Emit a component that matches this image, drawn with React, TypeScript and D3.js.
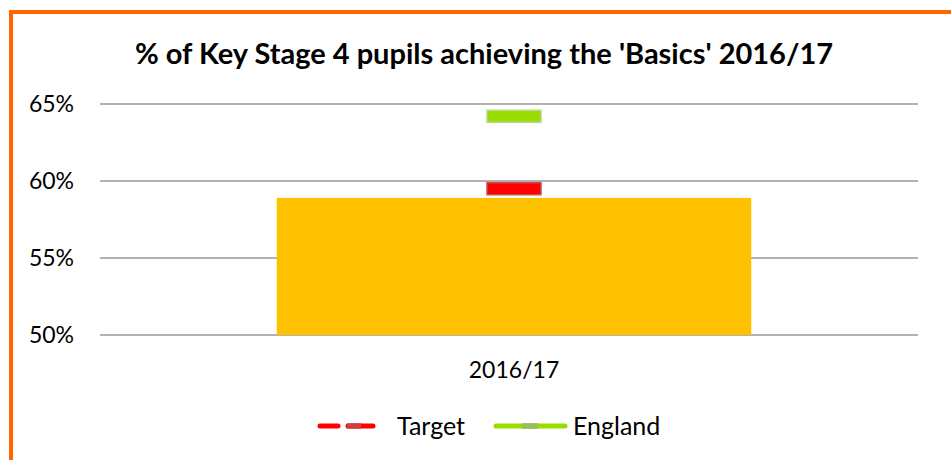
import React from 'react';
import * as d3 from 'd3';

// data
const categories = ['2016/17'];
const pupilValues = [58.9];
const targetValues = [59.5];
const englandValues = [64.2];
const yTicks = [50, 55, 60, 65];

const width = 951;
const height = 460;
const font = 'Lato, "Open Sans", sans-serif';

export default function App() {
    const plot = {left: 100, right: 918, top: 104, bottom: 335};

    // band range nudged right a bit so the bar sits where Excel put it
    const xScale = d3.scaleBand<string>()
        .domain(categories)
        .range([plot.left + 5, plot.right + 5])
        .paddingInner(0.42)
        .paddingOuter(0.21);
    const yScale = d3.scaleLinear()
        .domain([50, 65])
        .range([plot.bottom, plot.top]);

    const markerW = 54;
    const markerH = 12;

    return (
        <svg width={width} height={height} style={{position: 'absolute', left: 0, top: 0}}>
            <rect x={0} y={0} width={width} height={height} fill="#fff" />
            {/* chart border */}
            <rect x={11} y={12} width={width + 20} height={height + 20} fill="none" stroke="#ff6600" strokeWidth={4} />

            <text x={484} y={64} textAnchor="middle" fontFamily={font} fontWeight="bold" fontSize={29} fill="#000">
                % of Key Stage 4 pupils achieving the 'Basics' 2016/17
            </text>

            {/* gridlines + y labels */}
            {yTicks.map((t) => (
                <g key={t}>
                    <line x1={plot.left} x2={plot.right} y1={yScale(t)} y2={yScale(t)} stroke="#999" strokeWidth={1.5} />
                    <text x={74} y={yScale(t)} dy="0.35em" textAnchor="end" fontFamily={font} fontSize={23} fill="#000">
                        {t}%
                    </text>
                </g>
            ))}

            {/* bars */}
            {categories.map((c, i) => (
                <rect key={c} x={xScale(c)} y={yScale(pupilValues[i])} width={xScale.bandwidth()}
                      height={yScale(50) - yScale(pupilValues[i])} fill="#ffc000" />
            ))}

            {/* target markers */}
            {categories.map((c, i) => {
                const cx = (xScale(c) as number) + xScale.bandwidth() / 2;
                return (
                    <rect key={'t' + c} x={cx - markerW / 2} y={yScale(targetValues[i]) - markerH / 2}
                          width={markerW} height={markerH} fill="#ff0000" stroke="#c0504d" strokeWidth={1.5} />
                );
            })}
            {/* england markers */}
            {categories.map((c, i) => {
                const cx = (xScale(c) as number) + xScale.bandwidth() / 2;
                return (
                    <rect key={'e' + c} x={cx - markerW / 2} y={yScale(englandValues[i]) - markerH / 2}
                          width={markerW} height={markerH} fill="#99dd00" stroke="#b5d98a" strokeWidth={1.5} />
                );
            })}

            {/* x labels */}
            {categories.map((c) => (
                <text key={'l' + c} x={(xScale(c) as number) + xScale.bandwidth() / 2} y={378} textAnchor="middle"
                      fontFamily={font} fontSize={23} fill="#000">{c}</text>
            ))}

            {/* legend */}
            <g>
                <line x1={320} x2={338} y1={426} y2={426} stroke="#ff0000" strokeWidth={5} strokeLinecap="round" />
                <line x1={348} x2={373} y1={426} y2={426} stroke="#ff0000" strokeWidth={5} strokeLinecap="round" />
                <rect x={347} y={423} width={14} height={6} fill="#c0504d" opacity={0.8} />
                <text x={397} y={426} dy="0.35em" fontFamily={font} fontSize={25} fill="#000">Target</text>

                <line x1={496} x2={565} y1={426} y2={426} stroke="#99dd00" strokeWidth={5} strokeLinecap="round" />
                <rect x={522} y={423} width={16} height={6} fill="#9ab870" opacity={0.8} />
                <text x={573} y={426} dy="0.35em" fontFamily={font} fontSize={25} fill="#000">England</text>
            </g>
        </svg>
    );
}
